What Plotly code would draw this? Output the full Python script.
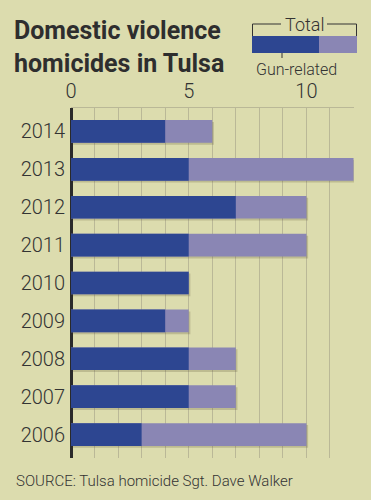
import plotly.graph_objects as go

years = ["2014", "2013", "2012", "2011", "2010", "2009", "2008", "2007", "2006"]
total = [6, 12, 10, 10, 5, 5, 7, 7, 10]
gun_related = [4, 5, 7, 5, 5, 4, 5, 5, 3]
x_ticks = [0, 5, 10]

BG = "#dcdcae"
DARK = "#2d4691"
LIGHT = "#8a86b4"
TEXT = "#333333"
FONT = "Roboto, Liberation Sans, sans-serif"

pos = list(range(len(years)))

# plot area in pixels
L, R, T, B = 71, 354, 108, 458
W, H = 371, 500
def px(x):
    return (x - L) / (R - L)
def py(y):
    return (B - y) / (B - T)

fig = go.Figure()
# subtle shadow
fig.add_trace(go.Bar(x=total, y=[p + 0.05 for p in pos], base=0.07, orientation="h", width=0.6,
                     marker=dict(color="rgba(80,75,40,0.22)", line=dict(width=0)),
                     hoverinfo="skip", showlegend=False))
fig.add_trace(go.Bar(x=total, y=pos, orientation="h", width=0.6, name="Total",
                     marker=dict(color=LIGHT, line=dict(width=0)), showlegend=False))
fig.add_trace(go.Bar(x=gun_related, y=pos, orientation="h", width=0.6, name="Gun-related",
                     marker=dict(color=DARK, line=dict(width=0)), showlegend=False))

all_ticks = list(range(0, 13))
fig.update_layout(
    width=W, height=H,
    paper_bgcolor=BG, plot_bgcolor=BG,
    barmode="overlay",
    margin=dict(l=L, r=W - R, t=T, b=H - B, pad=0),
    font=dict(family=FONT, color=TEXT),
    xaxis=dict(side="top", range=[0, 12.02], tickvals=all_ticks,
               ticktext=[str(t) if t in x_ticks else "" for t in all_ticks],
               showgrid=True, gridcolor="#bab897", gridwidth=1,
               zeroline=True, zerolinecolor="#2a2a2a", zerolinewidth=2.5,
               showline=True, linecolor="#bab897", linewidth=1, mirror=False,
               ticks="", ticklabelstandoff=1,
               tickfont=dict(size=20, color=TEXT, family=FONT, weight=300), fixedrange=True),
    yaxis=dict(range=[8.62, -0.62], tickvals=pos, ticktext=years, showgrid=False,
               zeroline=False, showline=False, ticks="", ticklabelstandoff=5,
               tickfont=dict(size=20, color=TEXT, family=FONT, weight=300), fixedrange=True),
)

# Title
fig.add_annotation(text="<b>Domestic violence<br>homicides in Tulsa</b>", xref="paper", yref="paper",
                   x=px(12), y=py(14), xanchor="left", yanchor="top", showarrow=False, align="left",
                   font=dict(size=25, color="#2e2e2e", family=FONT))

# Legend graphic
fig.add_shape(type="rect", xref="paper", yref="paper", x0=px(252), x1=px(319), y0=py(53), y1=py(36),
              fillcolor=DARK, line=dict(width=0))
fig.add_shape(type="rect", xref="paper", yref="paper", x0=px(319), x1=px(357), y0=py(53), y1=py(36),
              fillcolor=LIGHT, line=dict(width=0))
lc = dict(color="#333333", width=1)
fig.add_shape(type="line", xref="paper", yref="paper", x0=px(252.5), x1=px(252.5), y0=py(36), y1=py(24), line=lc)
fig.add_shape(type="line", xref="paper", yref="paper", x0=px(252.5), x1=px(281), y0=py(24), y1=py(24), line=lc)
fig.add_shape(type="line", xref="paper", yref="paper", x0=px(327), x1=px(356.5), y0=py(24), y1=py(24), line=lc)
fig.add_shape(type="line", xref="paper", yref="paper", x0=px(356.5), x1=px(356.5), y0=py(24), y1=py(36), line=lc)
fig.add_shape(type="line", xref="paper", yref="paper", x0=px(282), x1=px(282), y0=py(53), y1=py(58), line=lc)
fig.add_annotation(text="Total", xref="paper", yref="paper", x=px(304), y=py(24), xanchor="center",
                   yanchor="middle", showarrow=False, font=dict(size=18, color=TEXT, family=FONT, weight=300))
fig.add_annotation(text="Gun-related", xref="paper", yref="paper", x=px(254), y=py(69), xanchor="left",
                   yanchor="middle", showarrow=False, font=dict(size=16, color=TEXT, family=FONT, weight=300))

# Source
fig.add_annotation(text="SOURCE: Tulsa homicide Sgt. Dave Walker", xref="paper", yref="paper",
                   x=px(14), y=py(481), xanchor="left", yanchor="middle", showarrow=False,
                   font=dict(size=15, color=TEXT, family=FONT, weight=300))

fig.write_html("out.html", config={"displayModeBar": False},
               post_script="document.body.style.margin='0';document.body.style.background='" + BG + "';")
